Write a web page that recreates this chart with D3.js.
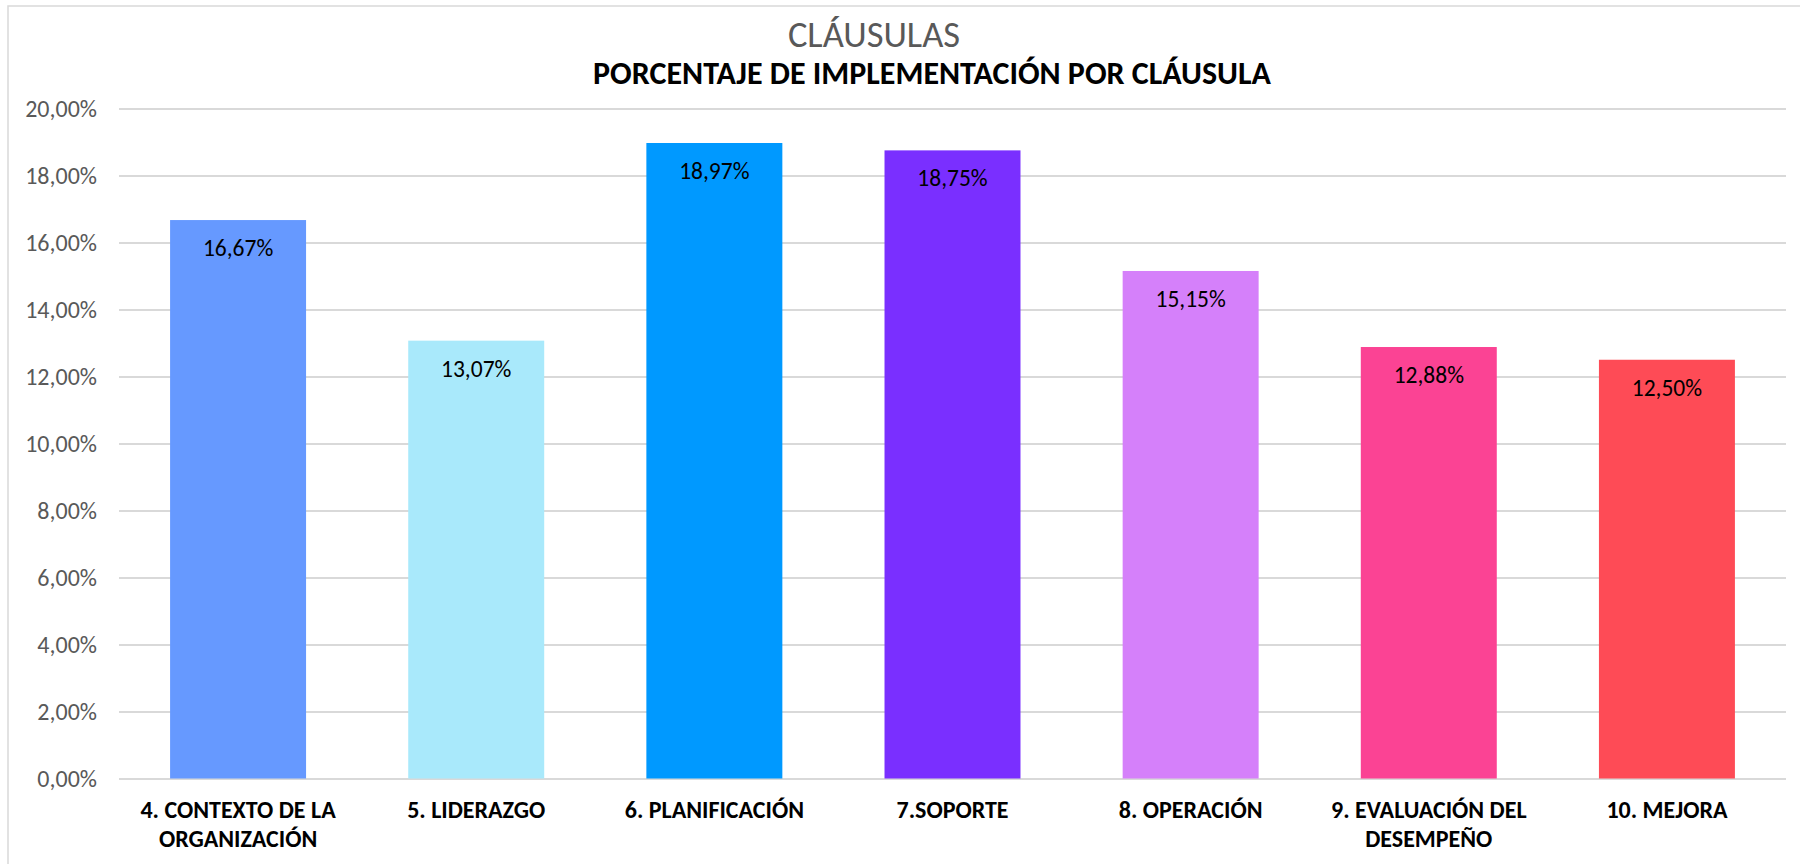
<!DOCTYPE html>
<html>
<head>
<meta charset="utf-8">
<script src="https://cdn.jsdelivr.net/npm/d3@7"></script>
<style>
  body { margin: 0; background: #fff; }
  text { font-family: Carlito, "Open Sans", Lato, sans-serif; }
</style>
</head>
<body>
<svg id="graph"></svg>
<script>
//Chart data
var categories = ["4. CONTEXTO DE LA\nORGANIZACIÓN", "5. LIDERAZGO", "6. PLANIFICACIÓN", "7.SOPORTE",
                  "8. OPERACIÓN", "9. EVALUACIÓN DEL\nDESEMPEÑO", "10. MEJORA"];
var values = [0.1667, 0.1307, 0.1897, 0.1875, 0.1515, 0.1288, 0.1250];
var colors = ["#6699FF", "#A9E9FB", "#0099FF", "#7A2FFF", "#D580FA", "#FB4394", "#FE4B56"];
var yTicks = [0, 0.02, 0.04, 0.06, 0.08, 0.10, 0.12, 0.14, 0.16, 0.18, 0.20];
var title = "CLÁUSULAS";
var subtitle = "PORCENTAJE DE IMPLEMENTACIÓN POR CLÁUSULA";

//Spanish number format (comma decimal)
var es = d3.formatLocale({decimal: ",", thousands: ".", grouping: [3], currency: ["", "€"]});
var pct = es.format(".2%");

//Set graph size
var screen = {width: 1800, height: 864};
var plot = {left: 119, right: 1786, top: 108.5, bottom: 778.5};

var svg = d3.select("#graph")
    .attr("width", screen.width)
    .attr("height", screen.height);

//Chart border (top and left visible)
svg.append("path")
    .attr("d", "M8," + screen.height + " V6 H" + screen.width)
    .attr("fill", "none")
    .attr("stroke", "#D9D9D9")
    .attr("stroke-width", 1.5);

//Scales
var xScale = d3.scaleBand()
    .domain(categories)
    .range([plot.left, plot.right])
    .paddingInner(0.429)
    .paddingOuter(0.2145);

var yScale = d3.scaleLinear()
    .domain([0, 0.20])
    .range([plot.bottom, plot.top]);

//Gridlines + y labels
var yAxis = svg.append("g")
    .attr("transform", "translate(" + plot.left + ",0)")
    .call(d3.axisLeft(yScale)
        .tickValues(yTicks)
        .tickSize(-(plot.right - plot.left))
        .tickPadding(22)
        .tickFormat(pct));

yAxis.select(".domain").remove();
yAxis.selectAll(".tick line")
    .attr("stroke", "#D9D9D9")
    .attr("stroke-width", 2);
yAxis.selectAll(".tick text")
    .attr("fill", "#595959")
    .style("font-size", "24px");

//Bars
svg.append("g")
    .selectAll("rect")
    .data(values)
    .enter()
    .append("rect")
    .attr("x", function(d, i){ return xScale(categories[i]); })
    .attr("y", function(d){ return yScale(d); })
    .attr("width", xScale.bandwidth())
    .attr("height", function(d){ return yScale(0) - yScale(d); })
    .attr("fill", function(d, i){ return colors[i]; });

//Value labels inside top of bars
svg.append("g")
    .selectAll("text")
    .data(values)
    .enter()
    .append("text")
    .attr("x", function(d, i){ return xScale(categories[i]) + xScale.bandwidth() / 2; })
    .attr("y", function(d){ return yScale(d) + 36; })
    .attr("text-anchor", "middle")
    .attr("fill", "#000")
    .style("font-size", "23.5px")
    .text(function(d){ return pct(d); });

//Category labels
var xLabels = svg.append("g")
    .selectAll("text")
    .data(categories)
    .enter()
    .append("text")
    .attr("text-anchor", "middle")
    .attr("fill", "#000")
    .style("font-size", "24px")
    .style("font-weight", "bold");

xLabels.selectAll("tspan")
    .data(function(d){ return d.split("\n").map(function(line){ return {line: line, cat: d}; }); })
    .enter()
    .append("tspan")
    .attr("x", function(d){ return xScale(d.cat) + xScale.bandwidth() / 2; })
    .attr("y", function(d, i){ return 818 + i * 29; })
    .text(function(d){ return d.line; });

//Titles
svg.append("text")
    .attr("x", 874)
    .attr("y", 47)
    .attr("text-anchor", "middle")
    .attr("fill", "#595959")
    .style("font-size", "36.5px")
    .text(title);

svg.append("text")
    .attr("x", 932)
    .attr("y", 84)
    .attr("text-anchor", "middle")
    .attr("fill", "#000")
    .style("font-size", "32px")
    .style("font-weight", "bold")
    .text(subtitle);
</script>
</body>
</html>
